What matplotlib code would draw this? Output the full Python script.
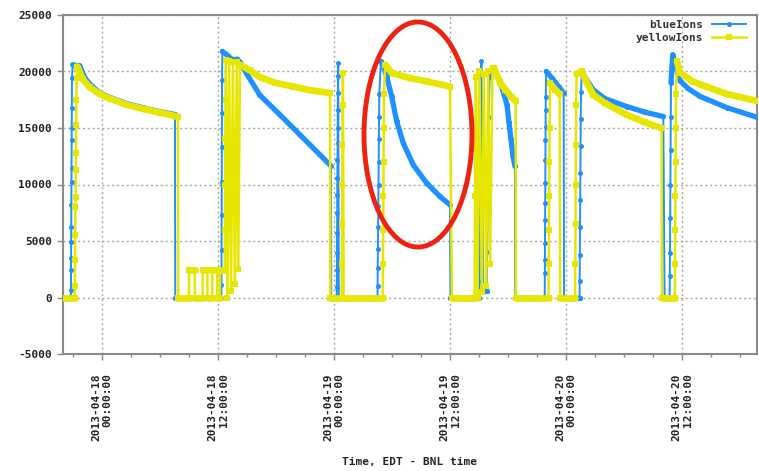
import numpy as np
import matplotlib
matplotlib.use("Agg")
import matplotlib.pyplot as plt
from matplotlib.collections import LineCollection
from matplotlib.patches import Ellipse

plt.rcParams['font.family'] = ['DejaVu Sans Mono']
plt.rcParams['axes.unicode_minus'] = False

# hours since 2013-04-18 00:00 (EDT)
blue_t = [-4.2, -3.22,
          -3.21, -3.20, -3.19, -3.18, -3.17, -3.16, -3.15, -3.14, -3.13, -3.12, -3.11, -3.10, -3.03,
          -2.3, -1.76, -1.03, -0.2, 0.83, 2.59, 4.45, 6.0, 7.55,
          7.58, 12.35,
          12.36, 12.37, 12.38, 12.39, 12.40, 12.41, 12.42, 12.46,
          12.9, 13.4, 14.0, 14.3,
          14.97, 16.34, 18.41, 20.48, 22.55, 23.69,
          23.72, 24.28,
          24.29, 24.30, 24.31, 24.32, 24.33, 24.34, 24.35, 24.36, 24.37, 24.38, 24.39, 24.40, 24.41, 24.44,
          24.5, 28.5,
          28.51, 28.53, 28.55, 28.57, 28.59, 28.61, 28.63, 28.65, 28.67, 28.69, 28.85,
          29.1, 29.45, 29.97, 30.49, 31.17, 32.2, 33.59, 34.96, 36.0,
          36.05, 39.05,
          39.07, 39.09, 39.11, 39.13, 39.15, 39.17, 39.25,
          39.45, 39.8,
          39.85, 39.9, 39.95, 40.0, 40.1, 40.55,
          41.17, 41.9, 42.1, 42.31, 42.52, 42.72,
          42.75, 45.8,
          45.81, 45.82, 45.83, 45.84, 45.85, 45.86, 45.87, 45.88, 45.89, 45.90, 45.91, 45.95,
          46.55, 47.24, 47.76,
          47.8, 49.4,
          49.41, 49.43, 49.45, 49.47, 49.49, 49.51, 49.53, 49.55, 49.65,
          49.96, 50.82, 52.03, 54.28, 56.17, 58.07,
          58.2, 58.72,
          58.74, 58.76, 58.78, 58.80, 58.82, 58.84, 58.86, 59.05,
          59.38, 59.79, 60.62, 61.86, 64.65, 67.76, 68.5]
blue_v = [0, 0,
          680, 2450, 3500, 4900, 6250, 8200, 10200, 11500, 13900, 15000, 16800, 19450, 20600,
          20500, 19400, 18700, 18100, 17700, 17150, 16750, 16450, 16200,
          0, 0,
          1100, 4200, 7300, 10230, 13330, 16340, 19260, 21770,
          21500, 21100, 21100, 20800,
          19800, 17900, 16170, 14400, 12630, 11650,
          0, 0,
          950, 2450, 3950, 5700, 7500, 9100, 10600, 12180, 13700, 15000, 16600, 18110, 19560, 20740,
          0, 0,
          1000, 2600, 4300, 6200, 8100, 10000, 12000, 14000, 16000, 18000, 20900,
          20500, 19560, 17790, 15580, 13660, 11740, 10120, 8940, 8200,
          0, 0,
          1500, 4500, 7800, 11000, 14500, 17800, 20890,
          600, 600,
          4000, 8000, 12000, 16000, 19500, 20100,
          19200, 17050, 15500, 14000, 12500, 11600,
          0, 0,
          2190, 3340, 4830, 6880, 8380, 10150, 12190, 13950, 15100, 16600, 17750, 20000,
          19420, 18670, 18090,
          0, 0,
          1500, 3800, 6200, 8600, 11000, 13400, 15800, 18200, 20000,
          19500, 18380, 17600, 16900, 16400, 16020,
          0, 0,
          1860, 3950, 7050, 9960, 13070, 16000, 19000, 21480,
          20300, 19200, 18500, 17800, 16800, 15950, 15800]

yellow_t = [-4.2, -2.82,
            -2.80, -2.78, -2.76, -2.74, -2.72, -2.70, -2.68, -2.66, -2.64, -2.62, -2.60,
            -2.48, -1.97, -1.24, -0.21, 0.83, 2.59, 4.45, 6.0, 7.86,
            7.88, 9.0, 9.02, 9.6, 9.62, 10.4, 10.42, 10.9, 10.92, 11.4, 11.42, 11.9, 11.92, 12.2, 12.22, 12.7,
            12.72, 12.74, 12.76, 12.78, 12.8,
            12.98, 13.15, 13.35, 13.55, 13.75, 13.95, 14.1, 14.28,
            15.31, 16.34, 17.9, 19.76, 21.5, 23.59,
            23.62, 24.8,
            24.82, 24.84, 24.86, 24.88, 24.9, 24.93,
            25.0, 29.05,
            29.07, 29.09, 29.11, 29.13, 29.15, 29.17, 29.3,
            30.0, 31.86, 33.6, 36.0,
            36.2, 38.55,
            38.6, 38.65, 38.7, 38.85, 39.05, 39.3, 39.5, 39.75, 39.95, 40.15, 40.4, 40.55,
            41.2, 41.74, 42.4, 42.8,
            42.83, 46.2,
            46.22, 46.24, 46.26, 46.28, 46.30, 46.35,
            46.9, 47.35,
            47.4, 48.95,
            48.97, 48.99, 49.01, 49.03, 49.05, 49.1, 49.65,
            50.0, 50.82, 52.03, 54.28, 56.17, 57.9,
            57.93, 59.26,
            59.28, 59.30, 59.32, 59.34, 59.36, 59.38, 59.48,
            59.79, 61.14, 62.38, 64.65, 67.76, 68.5]
yellow_v = [0, 0,
            1000, 3340, 5550, 8030, 8910, 11300, 12800, 15280, 17500, 19400, 20440,
            20300, 19300, 18600, 18000, 17600, 17050, 16650, 16370, 16000,
            0, 0, 2450, 2450, 0, 0, 2450, 2450, 0, 0, 2450, 2450, 0, 0, 2450, 2450,
            6000, 10000, 14000, 17500, 21000,
            0, 20900, 600, 20800, 1200, 20800, 2500, 20600,
            20100, 19500, 19000, 18670, 18350, 18090,
            0, 0,
            3000, 6500, 10000, 13500, 17000, 19860,
            0, 0,
            3000, 6000, 9000, 12000, 15000, 18000, 20600,
            19860, 19420, 19120, 18670,
            0, 0,
            9000, 19500, 19500, 0, 20000, 500, 19800, 1000, 20000, 3000, 20300, 20300,
            19000, 18380, 17700, 17350,
            0, 0,
            3000, 6000, 9000, 12000, 15000, 18970,
            18380, 18000,
            0, 0,
            3000, 6500, 10000, 13500, 17000, 19800, 20000,
            19300, 17940, 17200, 16170, 15500, 14990,
            0, 0,
            3000, 6000, 9000, 12000, 15000, 18000, 20890,
            19900, 19100, 18700, 18000, 17400, 17300]

series_names = ["blueIons", "yellowIons"]
series_colors = ["#1e90ff", "#e6e600"]

x_tick_hours = [0, 12, 24, 36, 48, 60]
x_tick_labels = ["2013-04-18\n00:00:00", "2013-04-18\n12:00:00", "2013-04-19\n00:00:00",
                 "2013-04-19\n12:00:00", "2013-04-20\n00:00:00", "2013-04-20\n12:00:00"]
y_ticks = [-5000, 0, 5000, 10000, 15000, 20000, 25000]
y_tick_labels = ["-5000", "0", "5000", "10000", "15000", "20000", "25000"]
x_label = "Time, EDT - BNL time"

W, H = 759, 471
fig = plt.figure(figsize=(W / 100, H / 100), dpi=100)
ax = fig.add_axes([63 / W, 1 - 354 / H, (757 - 63) / W, (354 - 15) / H])


def draw(t, v, color, lw_thin, lw_band, marker, ms, z, label):
    t = np.asarray(t, float)
    v = np.asarray(v, float)
    ax.plot(t, v, color=color, lw=lw_thin, marker=marker, ms=ms, mew=0,
            zorder=z, label=label, solid_joinstyle='round')
    slope = np.abs(np.diff(v)) / np.maximum(np.diff(t), 1e-9)
    segs = [[(t[i], v[i]), (t[i + 1], v[i + 1])] for i in range(len(t) - 1) if slope[i] < 15000]
    lc = LineCollection(segs, colors=color, linewidths=lw_band, capstyle='round', zorder=z)
    ax.add_collection(lc)


draw(blue_t, blue_v, series_colors[0], 1.4, 3.8, 'o', 3.6, 3, series_names[0])
draw(yellow_t, yellow_v, series_colors[1], 1.8, 4.8, 's', 4.6, 4, series_names[1])

ax.set_xlim(-4.03, 67.76)
ax.set_ylim(-5000, 25000)
ax.set_xticks(x_tick_hours)
ax.set_xticklabels(x_tick_labels, rotation=90, fontsize=8, fontweight='bold',
                   ha='center', va='top', multialignment='right', color='#222222')
ax.set_xticks(np.arange(-3, 67, 3), minor=True)
ax.set_yticks(y_ticks)
ax.set_yticklabels(y_tick_labels, fontsize=8, fontweight='bold', color='#222222')
ax.tick_params(axis='x', which='major', direction='out', length=4, width=1, color='#888888', pad=10)
ax.tick_params(axis='x', which='minor', direction='out', length=2.5, width=1, color='#888888')
ax.tick_params(axis='y', which='major', direction='out', length=4, width=1, color='#888888', pad=4)
ax.grid(True, which='major', color='#a8a8a8', linestyle=(0, (1.5, 2)), lw=1.0, zorder=0)
for s in ax.spines.values():
    s.set_color('#8a8a8a')
    s.set_linewidth(1.5)

fig.text(410 / W, 1 - 462 / H, x_label, ha='center', va='center', fontsize=8,
         fontweight='bold', color='#222222')

leg = ax.legend(loc='upper right', bbox_to_anchor=(746 / W, 1 - 20 / H), bbox_transform=fig.transFigure,
                frameon=False, markerfirst=False, numpoints=1, fontsize=8,
                handlelength=3.1, handletextpad=0.8, labelspacing=0.3, borderpad=0, borderaxespad=0)
for txt in leg.get_texts():
    txt.set_fontweight('bold')
    txt.set_color('#333333')

ell = Ellipse((0.5115, 0.6475), 0.1556, 0.664, transform=ax.transAxes, fill=False,
              edgecolor='#ee2211', lw=3.5, zorder=10, clip_on=False)
ax.add_patch(ell)

fig.savefig("out.png", dpi=100)
